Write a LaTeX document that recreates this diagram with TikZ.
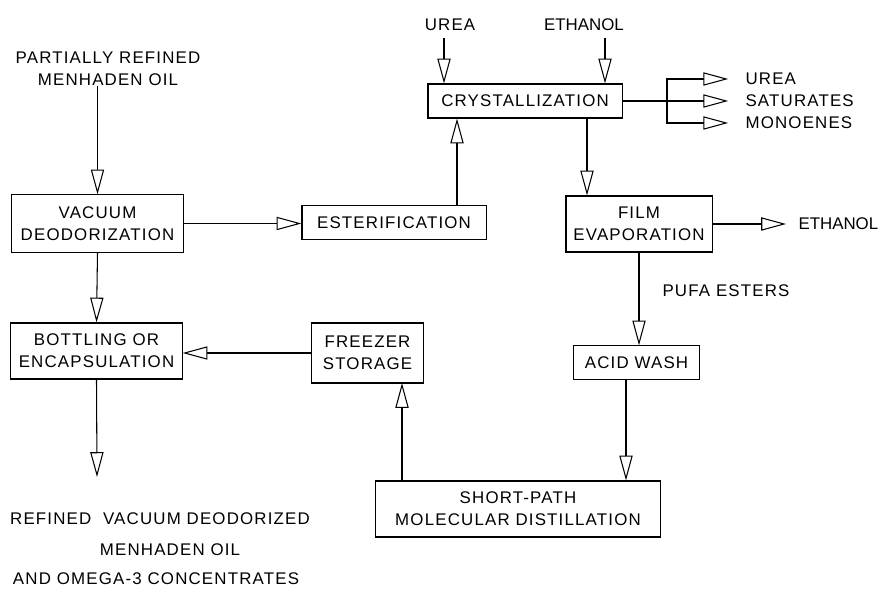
\documentclass[tikz,border=0pt]{standalone}
\usepackage{fontspec}
\setmainfont{Liberation Sans}[LetterSpace=7]
\usepackage{tikz}
\usetikzlibrary{arrows.meta}

\begin{document}
\begin{tikzpicture}[x=0.025cm,y=-0.025cm,line width=0.75pt,
  font=\fontsize{12}{15.6}\selectfont,
  box/.style={draw,align=center,inner sep=0pt},
  lbl/.style={align=center,inner sep=0pt},
  outlbl/.style={anchor=west,inner sep=0pt},
  tight/.style={font=\fontsize{12}{15.6}\selectfont\addfontfeature{LetterSpace=0}},
  flow/.style={-{Triangle[open,length=0.62cm,width=0.33cm]}}]

\useasboundingbox (0,0) rectangle (880,589);

\node[lbl] (feed) at (108,69) {PARTIALLY REFINED\\MENHADEN OIL};
\node[lbl] (urea) at (450,25) {UREA};
\node[lbl,tight] (ethin) at (584,25) {ETHANOL};

\node[box,minimum width=4.28cm,minimum height=1.43cm] (vac) at (97.5,223.5) {VACUUM\\DEODORIZATION};
\node[box,minimum width=4.6cm,minimum height=0.83cm] (ester) at (394,222.5) {ESTERIFICATION};
\node[box,minimum width=4.85cm,minimum height=0.85cm] (cryst) at (525,101) {CRYSTALLIZATION};
\node[box,minimum width=3.65cm,minimum height=1.4cm] (film) at (639,224) {FILM\\EVAPORATION};
\node[box,minimum width=4.28cm,minimum height=1.4cm] (bottl) at (96.5,351) {BOTTLING OR\\ENCAPSULATION};
\node[box,minimum width=2.78cm,minimum height=1.5cm] (freez) at (367.5,353) {FREEZER\\STORAGE};
\node[box,minimum width=3.13cm,minimum height=0.83cm] (acid) at (636.5,362.5) {ACID WASH};
\node[box,minimum width=7.1cm,minimum height=1.4cm] (short) at (518,509) {SHORT-PATH\\MOLECULAR DISTILLATION};

\node[outlbl] (ourea) at (745,79) {UREA};
\node[outlbl] (osat) at (745,101) {SATURATES};
\node[outlbl] (omono) at (745,123) {MONOENES};
\node[outlbl,tight] (oeth) at (798,224) {ETHANOL};
\node[lbl] (pufa) at (726,291) {PUFA ESTERS};

\node[lbl] (prod1) at (160,519) {REFINED\ \ VACUUM DEODORIZED};
\node[lbl] (prod2) at (170,550) {MENHADEN OIL};
\node[lbl] (prod3) at (156,579) {AND OMEGA-3 CONCENTRATES};

\coordinate (u) at (444,38);
\coordinate (e) at (605,38);
\coordinate (br) at (667,101);
\coordinate (es) at (457,206);
\coordinate (cs) at (587,118);
\coordinate (as) at (626,379);
\coordinate (fz) at (402,383);
\coordinate (end) at (97,477);

\draw[flow] (feed.south -| vac.north) -- (vac.north);
\draw[flow] (vac.east) -- (vac.east -| ester.west);
\draw[flow] (es) -- (es |- cryst.south);
\draw[flow] (u) -- (u |- cryst.north);
\draw[flow] (e) -- (e |- cryst.north);
\draw (cryst.east) -- (br);
\draw[flow] (br) |- ([xshift=-0.42cm]ourea.west);
\draw[flow] (br) -- ([xshift=-0.42cm]osat.west);
\draw[flow] (br) |- ([xshift=-0.42cm]omono.west);
\draw[flow] (cs) -- (cs |- film.north);
\draw[flow] (film.east) -- ([xshift=-0.3cm]oeth.west);
\draw[flow] (film.south) -- (film.south |- acid.north);
\draw[flow] (as) -- (as |- short.north);
\draw[flow] (fz |- short.north) -- (fz);
\draw[flow] (freez.west) -- (freez.west -| bottl.east);
\draw[flow] (vac.south) -- (bottl.north);
\draw[flow] (bottl.south) -- (end);
\end{tikzpicture}
\end{document}
